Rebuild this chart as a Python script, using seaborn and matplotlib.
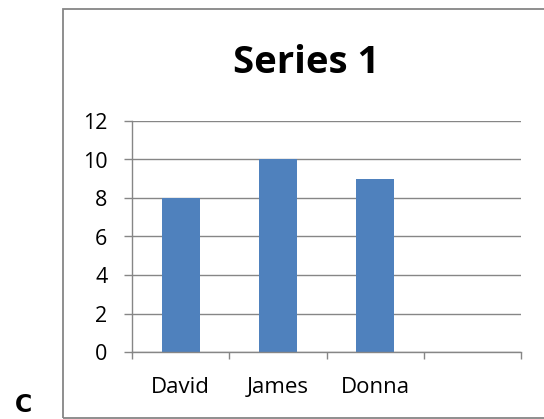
import matplotlib
matplotlib.use("Agg")
import matplotlib.pyplot as plt
import matplotlib.patches as mpatches
from matplotlib.ticker import FixedLocator, NullFormatter
import seaborn as sns
import pandas as pd

categories = ["David", "James", "Donna", ""]
values = [8, 10, 9]
yticks = [0, 2, 4, 6, 8, 10, 12]
title = "Series 1"

sns.set_style("white")
plt.rcParams['font.family'] = ['Open Sans', 'DejaVu Sans']
plt.rcParams['text.color'] = 'black'
plt.rcParams['xtick.color'] = 'black'
plt.rcParams['ytick.color'] = 'black'

W, H = 544, 419
fig = plt.figure(figsize=(W / 100, H / 100), dpi=100)
ax = fig.add_axes([132 / W, 1 - 352 / H, (521 - 132) / W, (352 - 121) / H])

df = pd.DataFrame({"name": categories[:3], "value": values})
sns.barplot(data=df, x="name", y="value", order=categories, color="#4F81BD",
            saturation=1, width=0.39, linewidth=0, ax=ax)

grid_c = "#868686"
ax.set_xlim(-0.5, len(categories) - 0.5)
ax.set_ylim(0, 12)
ax.set_yticks(yticks)
ax.yaxis.grid(True, color=grid_c, linewidth=1)
ax.set_axisbelow(True)
ax.set_xlabel("")
ax.set_ylabel("")
for s in ["top", "right"]:
    ax.spines[s].set_visible(False)
for s in ["left", "bottom"]:
    ax.spines[s].set_color(grid_c)
    ax.spines[s].set_linewidth(1)

ax.tick_params(axis="y", which="major", length=5.8, color=grid_c, width=1,
               labelsize=15.5, pad=12, left=True, labelcolor="black")
ax.tick_params(axis="x", which="major", length=0, labelsize=16, pad=18,
               labelcolor="black")
ax.xaxis.set_minor_locator(FixedLocator([i - 0.5 for i in range(len(categories) + 1)]))
ax.xaxis.set_minor_formatter(NullFormatter())
ax.tick_params(axis="x", which="minor", length=5, color=grid_c, width=1, bottom=True)

fig.text(306 / W, 1 - 63 / H, title, ha="center", va="center",
         fontsize=27.5, fontweight="bold", color="black")

rect = mpatches.Rectangle((63 / W, 1 - 417.5 / H), 1.02 - 63 / W, (417.5 - 9.5) / H,
                          transform=fig.transFigure, fill=False,
                          edgecolor=grid_c, linewidth=1.3, clip_on=False)
fig.patches.append(rect)

fig.text(23 / W, 1 - 405 / H, "C", ha="center", va="center",
         fontsize=17, fontweight="bold", color="black",
         family=["DejaVu Sans"])

fig.savefig("out.png", dpi=100)
